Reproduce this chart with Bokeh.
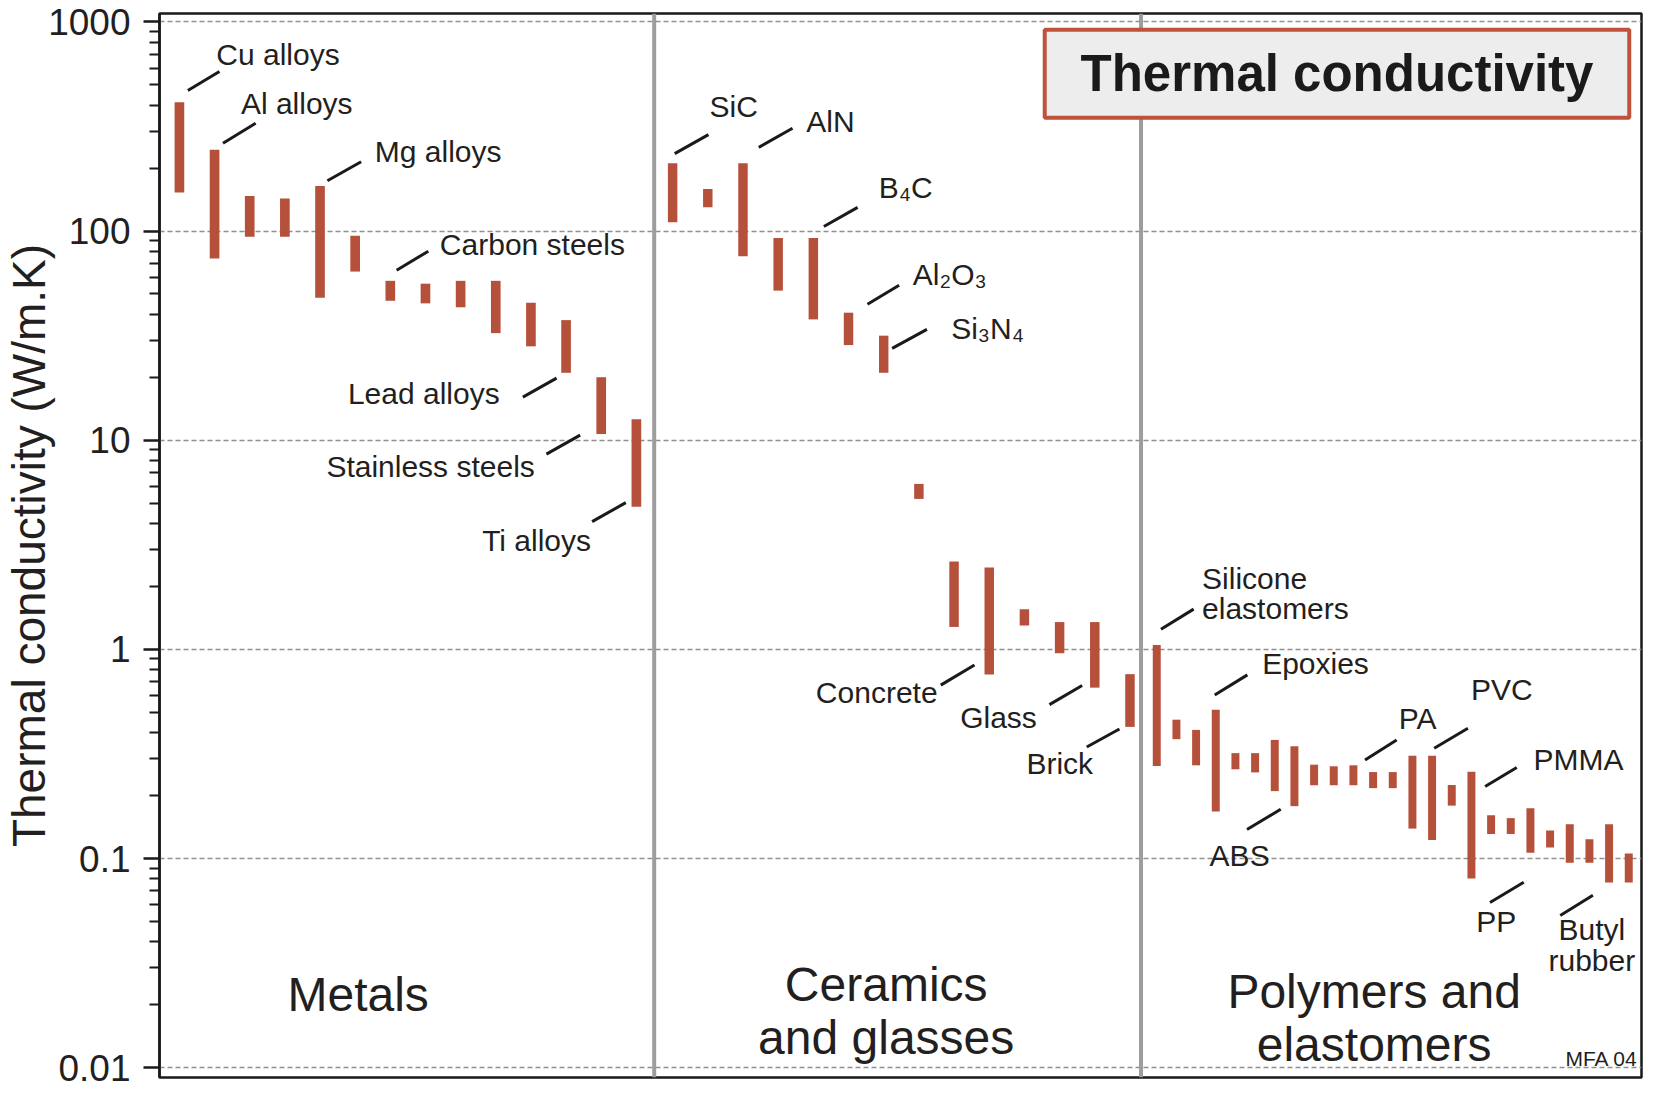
from bokeh.plotting import figure
from bokeh.models import (Range1d, FixedTicker, CustomJSTickFormatter, Span,
                          BoxAnnotation, ColumnDataSource, Label)
from bokeh.core.properties import value
from bokeh.embed import file_html
from bokeh.resources import INLINE

# ---------------- data (W/m.K) ----------------
group_names = ["Metals", "Ceramics\nand glasses", "Polymers and\nelastomers"]

metals_low  = [153, 74, 94, 94, 48, 64, 46.4, 45.1, 43.2, 32.5, 28.1, 21.0, 10.7, 4.8]
metals_high = [413, 245, 147, 143, 164, 95, 57.8, 56.0, 57.8, 57.8, 45.4, 37.5, 20.0, 12.6]

ceramics_low  = [110, 130, 75.7, 51.9, 37.8, 28.5, 21.0, 5.24, 1.28, 0.758, 1.30, 0.958, 0.656, 0.426]
ceramics_high = [211, 159, 211, 92.5, 92.5, 40.7, 31.6, 6.18, 2.63, 2.46, 1.555, 1.35, 1.35, 0.761]

polymers_low  = [0.277, 0.372, 0.279, 0.168, 0.267, 0.258, 0.210, 0.178, 0.224, 0.224, 0.224,
                 0.217, 0.217, 0.139, 0.1226, 0.179, 0.0803, 0.131, 0.131, 0.1064, 0.113,
                 0.0954, 0.0954, 0.0767, 0.0767]
polymers_high = [1.048, 0.461, 0.412, 0.514, 0.319, 0.319, 0.369, 0.344, 0.281, 0.276, 0.279,
                 0.259, 0.259, 0.310, 0.310, 0.2245, 0.260, 0.161, 0.156, 0.174, 0.136,
                 0.146, 0.1235, 0.146, 0.1056]

tick_values = [0.01, 0.1, 1, 10, 100, 1000]

# material labels: (group, index in group, end of bar, text)
label_bars = [
    (0, 0, "top", "Cu alloys"), (0, 1, "top", "Al alloys"), (0, 4, "top", "Mg alloys"),
    (0, 6, "top", "Carbon steels"), (0, 11, "bottom", "Lead alloys"),
    (0, 12, "bottom", "Stainless steels"), (0, 13, "bottom", "Ti alloys"),
    (1, 0, "top", "SiC"), (1, 2, "top", "AlN"), (1, 4, "top", "B\u2084C"),
    (1, 5, "top", "Al\u2082O\u2083"), (1, 6, "top", "Si\u2083N\u2084"),
    (1, 9, "bottom", "Concrete"), (1, 12, "bottom", "Glass"), (1, 13, "bottom", "Brick"),
    (2, 0, "top", "Silicone\nelastomers"), (2, 3, "top", "Epoxies"),
    (2, 7, "bottom", "ABS"), (2, 10, "top", "PA"), (2, 14, "top", "PVC"),
    (2, 16, "top", "PMMA"), (2, 20, "bottom", "PP"), (2, 24, "bottom", "Butyl\nrubber"),
]

# ---------------- layout / style ----------------
SC = 1105 / 1044                     # offsets below were measured on a 1044-px-high copy
leader_offsets = [  # (dx1, dy1, dx2, dy2) px relative to bar end, screen y downwards
    (8, -11, 38, -29), (8, -6, 39, -25), (7, -5, 39, -23), (6, -10, 36, -28),
    (-41, 23, -9, 5), (-52, 19, -20, 1), (-42, 14, -10, -4),
    (2, -9, 34, -27), (15, -15, 47, -33), (10, -11, 42, -29), (18, -8, 48, -26),
    (8, 12, 41, -6), (-46, 10, -14, -9), (-43, 16, -12, -2), (-41, 19, -10, 2),
    (4, -15, 35, -34), (-1, -14, 30, -33), (-45, 22, -13, 3), (11, -5, 41, -24),
    (2, -7, 34, -26), (13, 14, 43, -4), (-57, 52, -25, 33), (-65, 31, -34, 12),
]
text_offsets = [  # (dx, dy, align)
    (35, -45, "left"), (25, -44, "left"), (52, -33, "left"), (47, -34, "left"),
    (-63, 20, "right"), (-63, 31, "right"), (-43, 32, "right"),
    (35, -54, "left"), (60, -39, "left"), (62, -48, "left"), (61, -36, "left"),
    (64, -7, "left"), (-49, 17, "right"), (-55, 28, "right"), (-35, 35, "right"),
    (43, -49, "left"), (44, -44, "left"), (-52, 47, "center"), (43, -44, "left"),
    (37, -63, "left"), (59, -12, "left"), (-51, 70, "center"), (-35, 59, "center"),
]

FIG_W, FIG_H = 1643, 1089
B_TOP, B_BOT = 13, 12
X_MAX = 1488.3
LOG_TOP, LOG_BOT = 3.040, -2.047
FRAME_H = FIG_H - B_TOP - B_BOT
DEC = FRAME_H / (LOG_TOP - LOG_BOT)  # px per decade

group_x0 = [20.0, 515.3, 1001.5]
group_step = [35.3, 35.33, 19.75]
group_barw = [9.7, 9.5, 8.0]
dividers = [496.8, 985.7]
group_label_pos = [(199.5, 0.0225), (729.8, 0.0187), (1219.8, 0.0173)]

BAR = "#b5503a"
FONT = "Liberation Sans"
TXT = "#231f20"

lows = [metals_low, ceramics_low, polymers_low]
highs = [metals_high, ceramics_high, polymers_high]

xs, tops, bots, ws = [], [], [], []
for g in range(3):
    for i, (lo, hi) in enumerate(zip(lows[g], highs[g])):
        xs.append(group_x0[g] + i * group_step[g])
        tops.append(hi)
        bots.append(lo)
        ws.append(group_barw[g])

p = figure(width=FIG_W, height=FIG_H, y_axis_type="log",
           x_range=Range1d(0, X_MAX), y_range=Range1d(10 ** LOG_BOT, 10 ** LOG_TOP),
           x_axis_location=None, output_backend="svg", toolbar_location=None,
           min_border_left=154, min_border_right=2, min_border_top=B_TOP,
           min_border_bottom=B_BOT)
p.xgrid.visible = False
p.background_fill_color = "white"
p.border_fill_color = "white"
p.outline_line_color = "#1a1a1a"
p.outline_line_width = 2.5

minor = [m * 10.0 ** e for e in range(-2, 3) for m in range(2, 10)]
yax = p.yaxis[0]
yax.ticker = FixedTicker(ticks=tick_values, minor_ticks=minor)
yax.formatter = CustomJSTickFormatter(code="return tick.toString();")
yax.axis_label = "Thermal conductivity (W/m.K)"
yax.axis_label_text_font = FONT
yax.axis_label_text_font_size = "46px"
yax.axis_label_text_font_style = "normal"
yax.axis_label_text_color = TXT
yax.axis_label_standoff = -10
yax.major_label_text_font = FONT
yax.major_label_text_font_size = "37px"
yax.major_label_text_color = TXT
yax.major_label_standoff = 13
yax.major_tick_out = 16
yax.major_tick_in = 0
yax.minor_tick_out = 10
yax.minor_tick_in = 0
yax.major_tick_line_width = 2.5
yax.minor_tick_line_width = 2
yax.major_tick_line_color = "#1a1a1a"
yax.minor_tick_line_color = "#1a1a1a"
yax.axis_line_width = 2.5
yax.axis_line_color = "#1a1a1a"

p.ygrid.grid_line_color = "#8f8f8f"
p.ygrid.grid_line_dash = "5 3"
p.ygrid.grid_line_width = 1.6

for d in dividers:
    p.add_layout(Span(location=d, dimension="height", line_color="#9d9d9d", line_width=4))

p.add_layout(BoxAnnotation(left=889, right=1476, bottom=348, top=916,
                           fill_color="#ededed", fill_alpha=1.0,
                           line_color="#c0523c", line_width=4, line_alpha=1.0))
p.add_layout(Label(x=1182.5, y=565, text="Thermal conductivity", text_align="center",
                   text_baseline="middle", text_font=FONT, text_font_size="51px",
                   text_font_style="bold", text_color="#1a1a1a"))

p.vbar(x=xs, width=ws, top=tops, bottom=bots, fill_color=BAR, line_color=None)

# leader lines and material labels, attached to the bar ends
seg = dict(x0=[], y0=[], x1=[], y1=[])
txt = {"left": dict(x=[], y=[], t=[]), "right": dict(x=[], y=[], t=[]),
       "center": dict(x=[], y=[], t=[])}
for (g, i, end, name), (a, b, c, d), (tx, ty, al) in zip(label_bars, leader_offsets, text_offsets):
    bx = group_x0[g] + i * group_step[g]
    by = highs[g][i] if end == "top" else lows[g][i]
    seg["x0"].append(bx + a * SC)
    seg["y0"].append(by * 10 ** (-b * SC / DEC))
    seg["x1"].append(bx + c * SC)
    seg["y1"].append(by * 10 ** (-d * SC / DEC))
    txt[al]["x"].append(bx + tx * SC)
    txt[al]["y"].append(by * 10 ** (-ty * SC / DEC))
    txt[al]["t"].append(name)

p.segment(x0="x0", y0="y0", x1="x1", y1="y1", source=ColumnDataSource(seg),
          line_color="#1a1a1a", line_width=3)
for al, dct in txt.items():
    if dct["t"]:
        p.text(x=dct["x"], y=dct["y"], text=dct["t"], text_align=al, text_baseline="middle",
               text_font=value(FONT), text_font_size="30px", text_color=TXT,
               text_line_height=0.92)

p.text(x=[gx for gx, gy in group_label_pos], y=[gy for gx, gy in group_label_pos],
       text=group_names, text_align="center", text_baseline="middle",
       text_font=value(FONT), text_font_size="48px", text_color=TXT, text_line_height=1.0)

p.text(x=[1484.6], y=[0.01104], text=["MFA 04"], text_align="right", text_baseline="middle",
       text_font=value(FONT), text_font_size="21px", text_color=TXT)

open("out.html", "w").write(file_html(p, INLINE))
